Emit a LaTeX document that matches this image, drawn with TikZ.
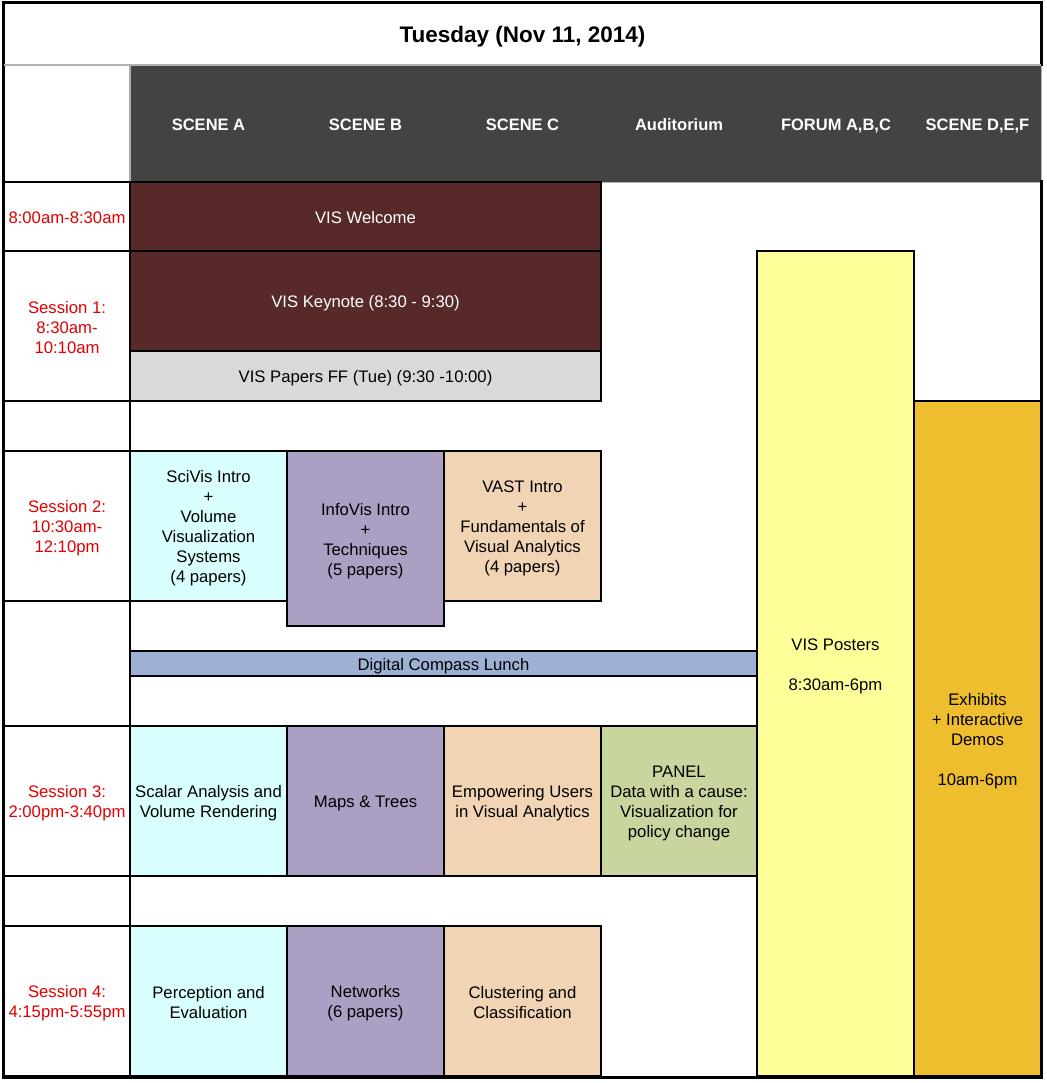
\documentclass[tikz,border=0pt]{standalone}
\usepackage{fontspec}
\setmainfont{Liberation Sans}
\definecolor{hdr}{HTML}{434343}
\definecolor{maroon}{HTML}{572928}
\definecolor{ffgray}{HTML}{D9D9D9}
\definecolor{scicyan}{HTML}{D9FEFE}
\definecolor{infopurple}{HTML}{AB9FC4}
\definecolor{vastpeach}{HTML}{F1D4B4}
\definecolor{panelgreen}{HTML}{C9D59E}
\definecolor{posteryellow}{HTML}{FFFF99}
\definecolor{exhorange}{HTML}{EEBE2F}
\definecolor{lunchblue}{HTML}{9DB1D4}
\definecolor{timered}{HTML}{E00000}
\newcommand{\cellfont}{\fontsize{16.7}{20}\selectfont}
\newcommand{\topstrut}{\rule{0pt}{17pt}}
\newcommand{\botstrut}{\rule[-3pt]{0pt}{3pt}}
\newcommand{\mkcell}[7]{%
  \node[box,#6,minimum width={(#4-#2)*1pt},minimum height={(#5-#3)*1pt}] (#1) at (#2,#3) {\topstrut#7\botstrut};}
\tikzset{
  box/.style={draw=black, line width=1.1pt, anchor=north west, inner sep=0pt, outer sep=0pt, align=center, font=\cellfont, text=black},
  timecell/.style={fill=white, text=timered},
  hdrlabel/.style={text=white, font=\fontsize{16.5}{20}\selectfont\bfseries, inner sep=0pt},
}
\begin{document}
\begin{tikzpicture}[x=1pt,y=-1pt]
\useasboundingbox (0,0) rectangle (1046,1083);
\fill[white] (0,0) rectangle (1046,1083);
% title
\node[box,draw=none,fill=white,minimum width=1037pt,minimum height=62pt,font=\fontsize{22.5}{26}\selectfont\bfseries] (title) at (4,3) {\rule{0pt}{25pt}Tuesday (Nov 11, 2014)\rule[-7pt]{0pt}{7pt}};
% header
\mkcell{corner}{4}{65}{130}{182}{draw=gray!70,fill=white}{}
\mkcell{header}{130}{65}{1041}{182}{draw=gray!60,line width=0.8pt,fill=hdr}{}
\node[hdrlabel] (hA) at (208.5,123.5) {\topstrut SCENE A\botstrut};
\node[hdrlabel] (hB) at (365.5,123.5) {\topstrut SCENE B\botstrut};
\node[hdrlabel] (hC) at (522.5,123.5) {\topstrut SCENE C\botstrut};
\node[hdrlabel] (hAud) at (679,123.5) {\topstrut Auditorium\botstrut};
\node[hdrlabel] (hF) at (836,123.5) {\topstrut FORUM A,B,C\botstrut};
\node[hdrlabel] (hDEF) at (977.5,123.5) {\topstrut SCENE D,E,F\botstrut};
% time column
\mkcell{t0}{4}{182}{130}{251}{timecell}{8:00am-8:30am}
\mkcell{t1}{4}{251}{130}{401}{timecell}{Session 1:\\8:30am-\\10:10am}
\mkcell{g1}{4}{401}{130}{451}{timecell}{}
\mkcell{t2}{4}{451}{130}{601}{timecell}{Session 2:\\10:30am-\\12:10pm}
\mkcell{g2}{4}{601}{130}{726}{timecell}{}
\mkcell{t3}{4}{726}{130}{876}{timecell}{Session 3:\\2:00pm-3:40pm}
\mkcell{g3}{4}{876}{130}{926}{timecell}{}
\mkcell{t4}{4}{926}{130}{1076}{timecell}{Session 4:\\4:15pm-5:55pm}
% plenary
\mkcell{welcome}{130}{182}{601}{251}{fill=maroon,text=white}{VIS Welcome}
\mkcell{keynote}{130}{251}{601}{351}{fill=maroon,text=white}{VIS Keynote (8:30 - 9:30)}
\mkcell{ff}{130}{351}{601}{401}{fill=ffgray}{VIS Papers FF (Tue) (9:30 -10:00)}
% session 2
\mkcell{scivis}{130}{451}{287}{601}{fill=scicyan}{SciVis Intro\\+\\Volume\\Visualization\\Systems\\(4 papers)}
\mkcell{infovis}{287}{451}{444}{626}{fill=infopurple}{InfoVis Intro\\+\\Techniques\\(5 papers)}
\mkcell{vast}{444}{451}{601}{601}{fill=vastpeach}{VAST Intro\\+\\Fundamentals of\\Visual Analytics\\(4 papers)}
% lunch
\mkcell{lunch}{130}{651}{757}{676}{fill=lunchblue}{Digital Compass Lunch}
% session 3
\mkcell{scalar}{130}{726}{287}{876}{fill=scicyan}{Scalar Analysis and\\Volume Rendering}
\mkcell{maps}{287}{726}{444}{876}{fill=infopurple}{Maps \& Trees}
\mkcell{empower}{444}{726}{601}{876}{fill=vastpeach}{Empowering Users\\in Visual Analytics}
\mkcell{panel}{601}{726}{757}{876}{fill=panelgreen}{PANEL\\Data with a cause:\\Visualization for\\policy change}
% session 4
\mkcell{percep}{130}{926}{287}{1076}{fill=scicyan}{Perception and\\Evaluation}
\mkcell{networks}{287}{926}{444}{1076}{fill=infopurple}{Networks\\(6 papers)}
\mkcell{cluster}{444}{926}{601}{1076}{fill=vastpeach}{Clustering and\\Classification}
% all-day
\mkcell{posters}{757}{251}{914}{1076}{fill=posteryellow}{VIS Posters\\[20pt]8:30am-6pm}
\mkcell{exhibits}{914}{401}{1041}{1076}{fill=exhorange}{Exhibits\\+ Interactive\\Demos\\[20pt]10am-6pm}
% outer frame
\coordinate (tl) at (3.5,3);
\coordinate (tr) at (1041,3);
\coordinate (ml) at (3.5,65);
\coordinate (mr) at (1041,65);
\coordinate (hr) at (1041,182);
\coordinate (bl) at (3.5,1077);
\coordinate (br) at (1041,1077);
\draw[line width=3pt,line cap=rect] (mr) -- (tr) -- (tl) -- (bl) -- (br) -- (hr);
\draw[gray!60,line width=1.2pt] (ml) -- (mr);
\end{tikzpicture}
\end{document}
